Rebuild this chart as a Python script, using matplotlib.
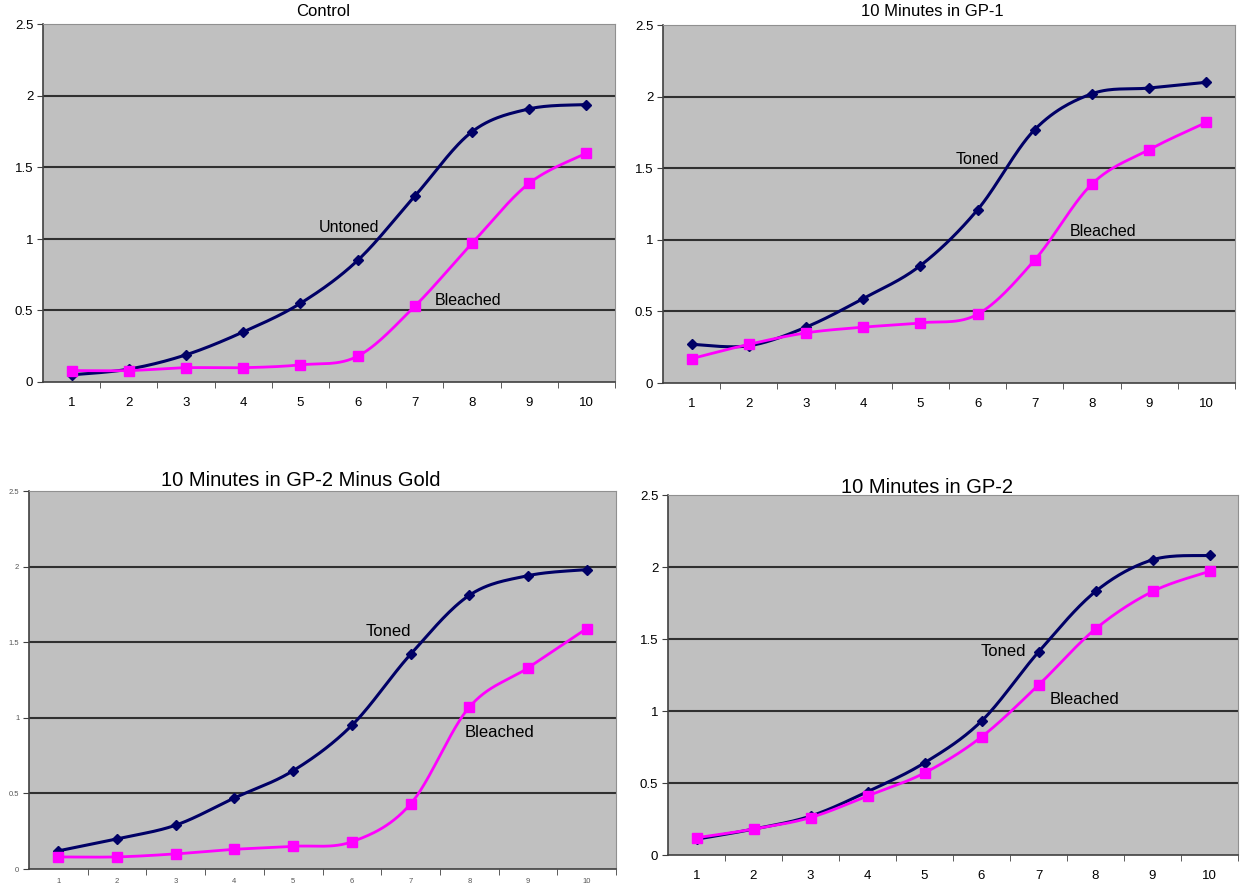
import numpy as np
import matplotlib
matplotlib.use("Agg")
import matplotlib.pyplot as plt

plt.rcParams['font.family'] = ['Liberation Sans', 'DejaVu Sans']

categories = [1, 2, 3, 4, 5, 6, 7, 8, 9, 10]
y_ticks = [0, 0.5, 1, 1.5, 2, 2.5]
y_tick_labels = ["0", "0.5", "1", "1.5", "2", "2.5"]

titles = ["Control", "10 Minutes in GP-1", "10 Minutes in GP-2 Minus Gold", "10 Minutes in GP-2"]
top_labels = ["Untoned", "Toned", "Toned", "Toned"]
bottom_labels = ["Bleached", "Bleached", "Bleached", "Bleached"]

control_untoned = [0.05, 0.09, 0.19, 0.35, 0.55, 0.85, 1.30, 1.75, 1.91, 1.94]
control_bleached = [0.08, 0.08, 0.10, 0.10, 0.12, 0.18, 0.53, 0.97, 1.39, 1.60]

gp1_toned = [0.27, 0.26, 0.39, 0.59, 0.82, 1.21, 1.77, 2.02, 2.06, 2.10]
gp1_bleached = [0.17, 0.27, 0.35, 0.39, 0.42, 0.48, 0.86, 1.39, 1.63, 1.82]

gp2mg_toned = [0.12, 0.20, 0.29, 0.47, 0.65, 0.95, 1.42, 1.81, 1.94, 1.98]
gp2mg_bleached = [0.08, 0.08, 0.10, 0.13, 0.15, 0.18, 0.43, 1.07, 1.33, 1.59]

gp2_toned = [0.11, 0.18, 0.27, 0.44, 0.64, 0.93, 1.41, 1.83, 2.05, 2.08]
gp2_bleached = [0.12, 0.18, 0.26, 0.41, 0.57, 0.82, 1.18, 1.57, 1.83, 1.97]

series = [
    (control_untoned, control_bleached),
    (gp1_toned, gp1_bleached),
    (gp2mg_toned, gp2mg_bleached),
    (gp2_toned, gp2_bleached),
]

# label anchor positions (data coords)
top_label_pos = [(5.85, 1.08), (5.99, 1.56), (6.63, 1.57), (6.38, 1.41)]
bottom_label_pos = [(7.93, 0.57), (8.19, 1.06), (8.52, 0.90), (7.80, 1.08)]

W, H = 1240, 888
# panel rects in pixels: left, right, top, bottom
rects = [
    (43, 615, 24.5, 382),
    (663, 1235, 25, 383),
    (29, 616, 491, 869),
    (668, 1238, 495, 855),
]
title_pos = [(323, 12), (932, 12), (301, 480), (927, 487)]
title_fs = [12, 12, 14.5, 14.5]
label_fs = [11.5, 11.5, 12, 12]
tick_fs = [9.5, 9.5, 5.5, 9.5]
tick_col = ["black", "black", "#555555", "black"]
x_pad = [11, 11, 6.5, 11]

NAVY = "#000066"
MAGENTA = "#ff00ff"


def smooth(xs, ys, n=30):
    x = np.asarray(xs, float)
    y = np.asarray(ys, float)
    P = np.column_stack([x, y])
    Pp = np.vstack([P[0], P, P[-1]])
    out = []
    t = np.linspace(0, 1, n)[:, None]
    for i in range(len(P) - 1):
        p0, p1, p2, p3 = Pp[i], Pp[i + 1], Pp[i + 2], Pp[i + 3]
        c1 = p1 + (p2 - p0) / 6.0
        c2 = p2 - (p3 - p1) / 6.0
        seg = ((1 - t) ** 3) * p1 + 3 * ((1 - t) ** 2) * t * c1 + 3 * (1 - t) * t ** 2 * c2 + t ** 3 * p2
        out.append(seg if i == 0 else seg[1:])
    out = np.vstack(out)
    return out[:, 0], out[:, 1]


fig = plt.figure(figsize=(W / 100, H / 100), dpi=100)
fig.patch.set_facecolor("white")

for k in range(4):
    l, r, t, b = rects[k]
    ax = fig.add_axes([l / W, 1 - b / H, (r - l) / W, (b - t) / H])
    ax.set_facecolor("#c0c0c0")
    ax.set_xlim(0.5, 10.5)
    ax.set_ylim(0, 2.5)
    for yv in y_ticks[1:-1]:
        ax.axhline(yv, color="#303030", lw=1.5, zorder=1)
    a, bl = series[k]
    sx, sy = smooth(categories, a)
    ax.plot(sx, sy, color=NAVY, lw=2.2, zorder=3)
    ax.plot(categories, a, ls="none", marker="D", ms=5, color=NAVY, zorder=4)
    sx, sy = smooth(categories, bl)
    ax.plot(sx, sy, color=MAGENTA, lw=2.0, zorder=3)
    ax.plot(categories, bl, ls="none", marker="s", ms=6.5, color=MAGENTA, zorder=4)

    ax.set_yticks(y_ticks)
    ax.set_yticklabels(y_tick_labels, fontsize=tick_fs[k], color=tick_col[k])
    ax.set_xticks(categories)
    ax.set_xticklabels([str(c) for c in categories], fontsize=tick_fs[k], color=tick_col[k])
    ax.tick_params(axis="x", length=0, pad=x_pad[k])
    ax.set_xticks(np.arange(1.5, 10.6, 1.0), minor=True)
    ax.tick_params(axis="x", which="minor", length=4, direction="out", color="#404040")
    ax.tick_params(axis="y", length=4, direction="out", color="#404040", pad=3)
    for s in ["left", "bottom"]:
        ax.spines[s].set_color("#404040")
        ax.spines[s].set_linewidth(1.2)
    for s in ["top", "right"]:
        ax.spines[s].set_color("#909090")
        ax.spines[s].set_linewidth(0.8)

    tx, ty = top_label_pos[k]
    ax.text(tx, ty, top_labels[k], fontsize=label_fs[k], ha="center", va="center", color="black", zorder=5)
    bx, by = bottom_label_pos[k]
    ax.text(bx, by, bottom_labels[k], fontsize=label_fs[k], ha="center", va="center", color="black", zorder=5)

    px, py = title_pos[k]
    fig.text(px / W, 1 - py / H, titles[k], fontsize=title_fs[k], ha="center", va="center", color="black")

fig.savefig("out.png", dpi=100, facecolor="white")
